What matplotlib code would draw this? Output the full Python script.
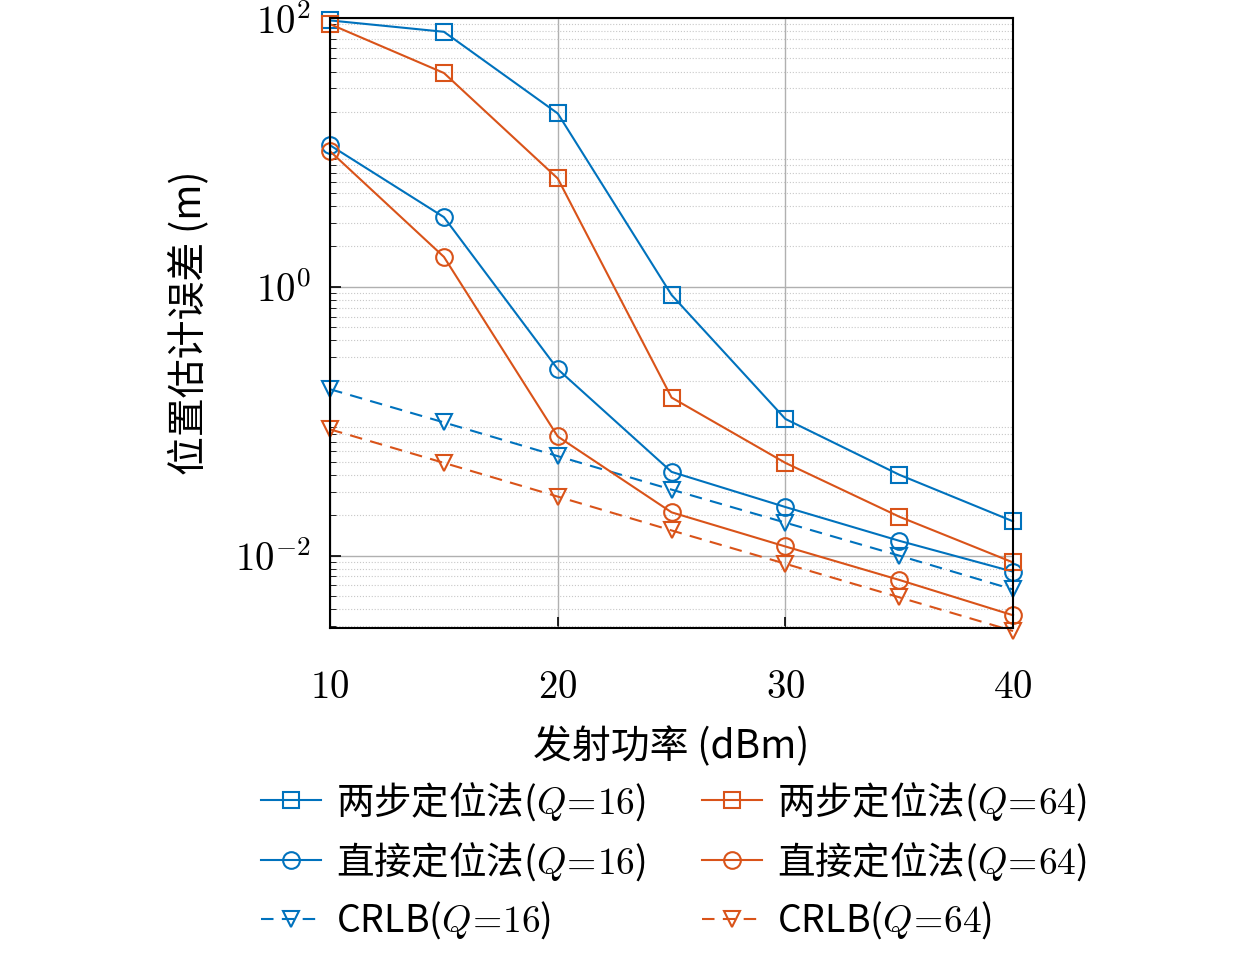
import matplotlib
matplotlib.use("Agg")
import matplotlib.pyplot as plt

plt.rcParams['font.family'] = ['Noto Sans CJK SC', 'DejaVu Sans']
plt.rcParams['mathtext.fontset'] = 'cm'

x = [10, 15, 20, 25, 30, 35, 40]
two_q16 = [96, 79, 19.5, 0.87, 0.104, 0.040, 0.018]
two_q64 = [90, 39, 6.4, 0.15, 0.049, 0.0195, 0.0089]
dir_q16 = [11.3, 3.3, 0.244, 0.042, 0.023, 0.0129, 0.0076]
dir_q64 = [10.2, 1.67, 0.077, 0.021, 0.0117, 0.0066, 0.0036]
crlb_q16 = [0.173, 0.098, 0.055, 0.031, 0.0176, 0.010, 0.0056]
crlb_q64 = [0.087, 0.049, 0.0275, 0.0154, 0.0087, 0.0049, 0.00275]

blue, red = '#0072BD', '#D95319'
fig = plt.figure(figsize=(12.6, 9.75), dpi=100)
ax = fig.add_axes([0.262, 0.356, 0.542, 0.6255])

kw = dict(markersize=12, markerfacecolor='none', markeredgewidth=1.5, linewidth=1.5, clip_on=False)
dash = dict(dashes=(6, 4))
h = []
h.append(ax.plot(x, two_q16, 's-', color=blue, label='两步定位法($Q\\!=\\!16$)', **kw)[0])
h.append(ax.plot(x, dir_q16, 'o-', color=blue, label='直接定位法($Q\\!=\\!16$)', **kw)[0])
h.append(ax.plot(x, crlb_q16, 'v--', color=blue, label='CRLB($Q\\!=\\!16$)', **kw, **dash)[0])
h.append(ax.plot(x, two_q64, 's-', color=red, label='两步定位法($Q\\!=\\!64$)', **kw)[0])
h.append(ax.plot(x, dir_q64, 'o-', color=red, label='直接定位法($Q\\!=\\!64$)', **kw)[0])
h.append(ax.plot(x, crlb_q64, 'v--', color=red, label='CRLB($Q\\!=\\!64$)', **kw, **dash)[0])

ax.set_yscale('log')
ax.set_xlim(10, 40)
ax.set_ylim(0.0029, 100)
ax.set_xticks([10, 20, 30, 40])
ax.set_xticklabels(['$10$', '$20$', '$30$', '$40$'])
ax.set_yticks([1e-2, 1, 1e2])
ax.set_yticklabels(['$10^{-2}$', '$10^{0}$', '$10^{2}$'])
ax.tick_params(axis='x', labelsize=28, direction='in', length=8, width=1.2, pad=28)
ax.tick_params(axis='y', labelsize=28, direction='in', length=8, width=1.2, pad=14)
ax.tick_params(which='minor', direction='in', length=4)
ax.grid(True, which='major', color='#b0b0b0', linewidth=1)
ax.grid(True, which='minor', color='#c8c8c8', linestyle=':', linewidth=0.8)
for s in ax.spines.values():
    s.set_linewidth(1.5)
ax.set_xlabel('发射功率 (dBm)', fontsize=28, labelpad=14)
ax.set_ylabel('位置估计误差 (m)', fontsize=28, labelpad=18)

fig.legend(handles=h, loc='lower center', bbox_to_anchor=(0.535, 0.0), ncol=2, frameon=False,
           fontsize=27, handlelength=1.6, columnspacing=1.5, labelspacing=0.45, handletextpad=0.4)
fig.savefig('out.png', dpi=100)
